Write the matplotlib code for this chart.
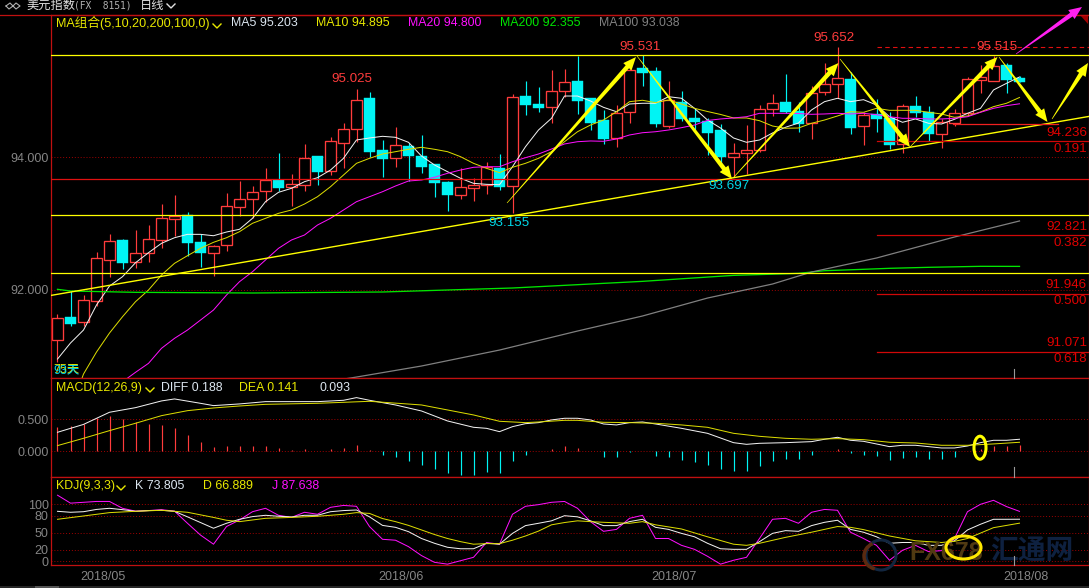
# coding: utf-8
# 美元指数 日线 - candles, MA lines, MACD, KDJ with hand drawn arrows on top
import numpy as np
import matplotlib
matplotlib.use('Agg')
import matplotlib.pyplot as plt
from matplotlib.patches import Polygon, Ellipse, Circle, Arc, Rectangle

plt.rcParams['font.family'] = ['Liberation Sans', 'Noto Sans CJK SC', 'DejaVu Sans']

W, H = 1089, 588

###------------------------------------------ data
# open, high, low, close per day
opens = [91.252,91.589,91.523,91.839,92.455,92.752,92.425,92.561,92.756,93.072,93.132,92.717,92.552,92.681,93.253,93.373,93.484,93.654,93.544,
         93.583,94.015,93.785,94.215,94.426,94.887,94.105,93.99,94.165,94.015,93.895,93.624,93.433,93.538,93.583,93.835,93.568,94.917,94.797,
         94.757,94.997,95.143,94.887,94.556,94.29,94.681,95.339,95.293,94.471,94.832,94.587,94.546,94.406,94.005,94.065,94.11,94.726,94.827,
         94.692,94.516,94.982,95.102,95.173,94.471,94.651,94.582,94.2,94.767,94.677,94.35,94.516,94.666,95.163,95.148,95.384,95.188]
highs = [91.639,91.989,91.924,92.567,92.842,92.767,92.902,92.977,93.293,93.428,93.173,92.837,92.676,93.459,93.639,93.559,93.835,94.06,93.744,
         94.196,94.015,94.296,94.507,95.025,94.978,94.256,94.447,94.206,94.331,93.895,93.635,93.835,93.684,93.925,94.045,94.948,95.143,95.053,
         95.308,95.324,95.52,94.887,94.707,94.778,95.46,95.531,95.358,95.143,94.993,94.732,94.582,94.496,94.21,94.481,94.782,94.948,95.248,
         94.832,95.068,95.409,95.652,95.283,94.681,94.868,94.681,94.797,94.917,94.767,94.576,94.722,95.199,95.384,95.515,95.409,95.223]
lows = [90.921,91.463,91.463,91.764,92.2,92.316,92.335,92.425,92.636,92.812,92.516,92.35,92.215,92.591,93.117,93.078,93.328,93.493,93.268,
        93.493,93.583,93.729,93.835,94.23,94.005,93.699,93.85,93.644,93.755,93.398,93.188,93.368,93.338,93.444,93.504,93.155,94.632,94.677,
        94.516,94.902,94.647,94.406,94.196,94.155,94.516,95.068,94.456,94.436,94.546,94.38,94.03,93.88,93.697,93.74,94.075,94.621,94.657,
        94.376,94.271,94.932,94.883,94.346,94.18,94.376,94.116,94.056,94.606,94.236,94.135,94.466,94.632,94.967,95.143,94.967,95.128]
closes = [91.574,91.488,91.845,92.476,92.732,92.406,92.552,92.762,93.078,93.108,92.711,92.561,92.666,93.259,93.364,93.478,93.659,93.538,93.589,
          93.98,93.779,94.236,94.417,94.853,94.075,93.97,94.176,94.015,93.85,93.609,93.428,93.544,93.574,93.845,93.549,94.898,94.782,94.737,
          94.988,95.123,94.847,94.516,94.271,94.657,95.304,95.263,94.496,94.853,94.572,94.526,94.361,94.0,94.056,94.101,94.717,94.808,94.677,
          94.496,94.958,95.093,95.188,94.436,94.627,94.572,94.18,94.763,94.662,94.346,94.526,94.657,95.169,95.199,95.369,95.158,95.128]

ma5 = [90.962,91.203,91.398,91.774,92.06,92.20,92.41,92.561,92.702,92.786,92.837,92.837,92.816,92.872,92.913,93.078,93.328,93.469,93.529,
       93.629,93.689,93.804,93.98,94.256,94.286,94.311,94.296,94.221,94.015,93.88,93.779,93.68,93.604,93.589,93.583,93.854,94.155,94.406,
       94.582,94.917,94.917,94.842,94.747,94.681,94.797,94.808,94.808,94.907,94.883,94.732,94.556,94.436,94.286,94.221,94.256,94.361,94.447,
       94.511,94.707,94.832,94.883,94.832,94.862,94.782,94.606,94.522,94.572,94.507,94.496,94.567,94.657,94.732,95.008,95.108,95.203]
ma10_start = 1
ma10 = [90.2,90.736,91.067,91.353,91.598,91.824,92.0,92.225,92.401,92.516,92.627,92.717,92.786,92.877,93.003,93.078,93.153,93.203,
        93.293,93.403,93.553,93.729,93.905,93.98,94.045,94.08,94.116,94.146,94.116,94.08,94.005,93.905,93.83,93.764,93.845,93.905,93.98,
        94.08,94.23,94.38,94.481,94.556,94.681,94.832,94.853,94.817,94.857,94.797,94.732,94.684,94.64,94.587,94.587,94.546,94.466,94.432,
        94.436,94.507,94.556,94.617,94.681,94.672,94.732,94.702,94.702,94.702,94.672,94.647,94.597,94.617,94.677,94.757,94.808,94.895]
ma20_start = 5
ma20 = [90.62,90.762,90.897,91.123,91.273,91.398,91.548,91.699,91.924,92.125,92.275,92.451,92.627,92.752,
        92.827,92.977,93.078,93.203,93.328,93.403,93.478,93.564,93.639,93.654,93.695,93.755,93.804,93.845,93.854,93.854,93.929,93.99,94.045,
        94.12,94.196,94.23,94.241,94.236,94.271,94.331,94.365,94.38,94.406,94.441,94.481,94.549,94.572,94.587,94.606,94.657,94.657,94.657,
        94.654,94.642,94.647,94.657,94.647,94.657,94.636,94.606,94.582,94.582,94.572,94.572,94.582,94.606,94.672,94.732,94.772,94.8]
ma200_x = [0,1,6,15,25,35,45,52,57,59,62,64,67,71,74]
ma200 = [92.01,91.985,91.965,91.955,91.97,92.03,92.13,92.22,92.25,92.29,92.311,92.326,92.341,92.356,92.355]
ma100_x = [22,23,28,34,40,45,50,55,58,63,69,74]
ma100 = [90.66,90.691,90.857,91.097,91.383,91.609,91.879,92.09,92.27,92.481,92.797,93.038]

macd_hist = [.385,.396,.42,.515,.556,.505,.463,.427,.41,.364,.255,.146,.068,.088,.088,.088,.088,.052,.02,.036,.005,.036,.052,.099,.02,
             -.057,-.088,-.151,-.213,-.276,-.338,-.369,-.369,-.322,-.338,-.151,-.057,0,.036,.083,.052,0,-.088,-.088,-.005,.005,-.073,-.088,
             -.135,-.167,-.213,-.276,-.307,-.307,-.229,-.151,-.12,-.12,-.057,0,.036,-.026,-.057,-.073,-.135,-.104,-.088,-.12,-.12,-.088,0,
             .036,.083,.083,.093]
diff_x = [0,2,4,6,8,9,11,12,14,16,18,20,22,23,24,26,28,30,32,33,34,35,36,37,38,39,40,41,42,43,44,45,46,48,50,52,53,54,56,58,59,60,61,62,64,65,66,68,69,70,71,72,73,74]
diff = [.297,.42,.61,.682,.787,.818,.75,.714,.74,.776,.776,.776,.797,.839,.797,.724,.63,.474,.375,.359,.307,.385,.432,.448,.49,.516,.516,.49,.427,.412,.448,.458,.427,
        .359,.281,.135,.109,.125,.135,.151,.188,.219,.172,.156,.073,.094,.094,.052,.052,.083,.135,.172,.172,.188]
dea_x = [0,2,4,6,8,10,12,14,16,20,24,28,32,34,36,37,39,40,42,44,46,48,50,52,54,56,58,60,62,64,66,68,70,72,74]
dea = [.089,.203,.323,.438,.557,.635,.677,.708,.734,.75,.781,.724,.568,.469,.448,.458,.484,.484,.453,.448,.438,.412,.375,.281,.234,.203,.188,.198,.182,.141,.13,.094,.094,.115,.141]

kdj_k = [87.7,86,87,91,93,90.6,87.7,89,89.5,87.7,78,68,58,66.7,73.7,78.4,80.7,79,77.8,80.7,80.7,87,89,90,78,63,59.6,52,40,31.6,24.6,22,22,31.6,30,49,62.6,66.7,
         71,80,78,71,62.6,62.6,69.6,73.7,59.6,56,49,43,31.6,22,21,21,34.5,49,53.8,52.6,62.6,68.4,72,56,51,43,31.6,33,33,28,28,36,55,65,73.7,73.7,73.805]
kdj_d_x = [0,2,4,6,8,9,10,12,13,14,16,18,20,22,23,24,25,26,27,28,29,30,31,32,33,34,35,36,37,38,39,40,41,42,44,45,46,48,50,52,53,54,56,58,60,61,62,64,66,68,69,70,72,74]
kdj_d = [73.7,79.5,85.4,87.7,89.5,87.7,86,77,72,69.6,75.4,77,79,82.5,85.4,84,75,69.6,63,55,47,40,34.5,30,31,31,37,44.4,53,64,68,71,69.6,68.4,66.7,69.6,64,56.7,43,30,28,31.6,42,51,61,59.6,55.6,44.4,36,33,35,40,59,66.889]
kdj_j = [116,102,103.5,105,105,93,88,89,90.6,88,66.7,46,30,61,72.5,87,93,80.7,77,86,82.5,94.7,98,96.5,61,38.6,37,25.7,10,-1.8,-5,1,7,33,30,82.5,96.5,99.4,
         103.5,105,93,69.6,52.6,56,75.4,80.7,40,40,28,21,8.8,-5,1.8,7,40,73.7,75.4,66.7,86,91,89.5,51,40,28,1.8,19.3,28,17,18.7,40,87,100,107,96,87.638]

yellow_levels = [95.534, 93.132, 92.25]
red_level = 93.664
red_short = 94.49
trend_price = [91.92, 94.609]
fib_top = 95.652
fib_levels = [94.236, 92.821, 91.946, 91.071]
fib_ratios = ['0.191', '0.382', '0.500', '0.618']
date_x = [3.5, 26.4, 47.4, 74.5]
date_labels = ['2018/05', '2018/06', '2018/07', '2018/08']

###------------------------------------------ colours
RED = '#ff3c3c'
CYAN = '#00f4f4'
BORDER = '#c01010'
GRID = '#a00000'
GREY = '#858585'
YEL = '#e8e800'
BRIGHT_YEL = '#ffff00'
MAG = '#ff10ff'
LABEL_WHITE = '#dce6f0'

FIRST_X = 57.5
STEP = 13.0
LEFT, RIGHT = 51.5, 1088.5


def make_ax(top, bottom):
    ax = fig.add_axes([LEFT / W, 1 - bottom / H, (RIGHT - LEFT) / W, (bottom - top) / H])
    ax.set_facecolor('black')
    ax.set_xlim((LEFT - FIRST_X) / STEP, (RIGHT - FIRST_X) / STEP)
    for s in ax.spines.values():
        s.set_color(BORDER)
        s.set_linewidth(0.9)
    ax.tick_params(axis='both', length=0, labelcolor=GREY, labelsize=9, pad=2)
    ax.set_xticks([])
    ax.grid(axis='y', color=GRID, ls=(0, (1, 2)), lw=0.7)
    ax.set_axisbelow(True)
    return ax


def arrow(ax, x0, y0, x1, y1, color, w=4.5, hw=11, hl=13):
    # thin tail growing to the head, like the hand drawn ones
    d = np.array([x1 - x0, y1 - y0], dtype=float)
    d = d / np.hypot(d[0], d[1])
    n = np.array([-d[1], d[0]])
    tail = np.array([x0, y0])
    tip = np.array([x1, y1])
    base = tip - d * hl
    pts = [tail + n * 0.3, base + n * w / 2, base + n * hw / 2, tip,
           base - n * hw / 2, base - n * w / 2, tail - n * 0.3]
    ax.add_patch(Polygon(pts, closed=True, fc=color, ec='none', zorder=6))


def caret(ax, x, y):
    ax.plot([x, x + 4, x + 8], [y, y + 4, y], color=YEL, lw=1.0)


fig = plt.figure(figsize=(W / 100, H / 100), dpi=100, facecolor='black')

###------------------------------------------ price panel
ax1 = make_ax(15, 378)
ax1.set_ylim(94 - (378 - 157) / 66.5, 94 + (157 - 15) / 66.5)
ax1.set_yticks([92, 94])
ax1.set_yticklabels(['92.000', '94.000'])

idx = np.arange(len(closes))
o = np.array(opens)
c = np.array(closes)
up = c >= o
ax1.vlines(idx[up], np.array(lows)[up], np.array(highs)[up], color=RED, lw=0.85, zorder=2)
ax1.vlines(idx[~up], np.array(lows)[~up], np.array(highs)[~up], color=CYAN, lw=0.85, zorder=2)
ax1.bar(idx[up], (c - o)[up], bottom=o[up], width=0.8, facecolor='black', edgecolor=RED, linewidth=0.95, zorder=2.1)
ax1.bar(idx[~up], (o - c)[~up], bottom=c[~up], width=0.84, facecolor=CYAN, edgecolor=CYAN, linewidth=0.3, zorder=2.1)

ax1.plot(idx, ma5, color='#f2f2f2', lw=0.72, zorder=3)
ax1.plot(np.arange(len(ma10)) + ma10_start, ma10, color='#dcdc00', lw=0.72, zorder=3)
ax1.plot(np.arange(len(ma20)) + ma20_start, ma20, color=MAG, lw=0.72, zorder=3)
ax1.plot(ma200_x, ma200, color='#00e600', lw=0.95, zorder=3)
ax1.plot(ma100_x, ma100, color='#808080', lw=0.9, zorder=3)

xmin, xmax = ax1.get_xlim()
for lv in yellow_levels:
    ax1.axhline(lv, color=BRIGHT_YEL, lw=0.9, zorder=4)
ax1.axhline(red_level, color='#e01010', lw=0.9, zorder=4)
ax1.plot([xmin, xmax], trend_price, color=BRIGHT_YEL, lw=1.0, zorder=4)
ax1.plot([68.9, 76.96], [red_short, red_short], color='#f02020', lw=0.9, zorder=4)
ax1.plot([63.04, xmax], [fib_top, fib_top], color='#e01010', lw=0.8, ls=(0, (4, 3)), zorder=4)
for lv in fib_levels:
    ax1.plot([63.04, xmax], [lv, lv], color='#d00808', lw=0.9, zorder=4)

###------------------------------------------ MACD panel
ax2 = make_ax(378, 477)
ax2.set_ylim(-(477 - 451.3) / 64.0, (451.3 - 378) / 64.0)
ax2.set_yticks([0, 0.5])
ax2.set_yticklabels(['0.000', '0.500'])
hist = np.array(macd_hist)
hx = np.arange(len(hist))
ax2.vlines(hx[hist > 0], 0, hist[hist > 0], color=RED, lw=0.85, zorder=2)
ax2.vlines(hx[hist < 0], hist[hist < 0], 0, color=CYAN, lw=0.85, zorder=2)
ax2.plot(diff_x, diff, color='#f2f2f2', lw=0.72, zorder=3)
ax2.plot(dea_x, dea, color='#dcdc00', lw=0.72, zorder=3)

###------------------------------------------ KDJ panel
ax3 = make_ax(477, 565)
ax3.set_ylim((561.3 - 565) / 0.57, (561.3 - 477) / 0.57)
ax3.set_yticks([0, 20, 50, 80, 100])
ax3.set_xticks(date_x)
ax3.set_xticklabels(date_labels)
ax3.tick_params(axis='x', pad=4)
ax3.plot(np.arange(len(kdj_j)), kdj_j, color=MAG, lw=0.72, zorder=3)
ax3.plot(np.arange(len(kdj_k)), kdj_k, color='#f2f2f2', lw=0.72, zorder=3)
ax3.plot(kdj_d_x, kdj_d, color='#dcdc00', lw=0.72, zorder=3)

###------------------------------------------ overlay in pixels: header text, drawings
ov = fig.add_axes([0, 0, 1, 1], facecolor='none')
ov.set_xlim(0, W)
ov.set_ylim(H, 0)
ov.axis('off')


def txt(x, y, s, color, ha='left', size=8.9, **kw):
    ov.text(x, y, s, color=color, ha=ha, va='center', fontsize=size, zorder=7, **kw)


# top red line and corner mark
ov.plot([0, W], [14.5, 14.5], color=BORDER, lw=0.9)
ov.add_patch(Polygon([[1080, 15], [1088, 15], [1088, 24]], closed=True, fc='#a00000', ec='none'))

# title row
ov.plot([6, 10, 13, 16, 20, 16, 13, 9, 6], [6, 3, 6, 3, 6, 9, 6, 9, 6], color='#b0b0b0', lw=0.8)
txt(26, 6, '美元指数', '#e0e0e0', size=8.8)
txt(74, 6, '(FX  8151)', '#b0b0b0', size=6.9, family=['DejaVu Sans Mono'])
txt(140, 6, '日线', '#e0e0e0', size=8.8)
ov.plot([167, 171, 175], [4, 8, 4], color='#e0e0e0', lw=1.0)

# MA row
txt(56, 22.5, 'MA组合(5,10,20,200,100,0)', YEL, size=9.1)
caret(ov, 213, 24)
txt(231, 22.5, 'MA5 95.203', LABEL_WHITE)
txt(316, 22.5, 'MA10 94.895', YEL)
txt(408, 22.5, 'MA20 94.800', MAG)
txt(500, 22.5, 'MA200 92.355', '#00e600')
txt(599, 22.5, 'MA100 93.038', '#808080')

# MACD and KDJ rows
txt(56, 388, 'MACD(12,26,9)', YEL)
caret(ov, 146, 388)
txt(161, 388, 'DIFF 0.188', LABEL_WHITE)
txt(239, 388, 'DEA 0.141', YEL)
txt(320, 388, '0.093', LABEL_WHITE)
txt(56, 486, 'KDJ(9,3,3)', YEL)
caret(ov, 117, 486)
txt(135, 486, 'K 73.805', LABEL_WHITE)
txt(203, 486, 'D 66.889', YEL)
txt(272, 486, 'J 87.638', MAG)

# price labels
for x, y, s in [(352, 79, '95.025'), (640, 47, '95.531'), (834, 38, '95.652'), (997, 47, '95.515')]:
    txt(x, y, s, RED, ha='center', size=9.6)
for x, y, s in [(509, 223, '93.155'), (729, 186, '93.697')]:
    txt(x, y, s, '#00d8e8', ha='center', size=9.6)
for y, lv, rt in zip([133, 227, 285, 343], fib_levels, fib_ratios):
    txt(1087, y, '%.3f' % lv, '#e00000', ha='right', size=9.6)
    txt(1087, y + 16.5, rt, '#e00000', ha='right', size=9.6)
txt(53, 369, '75天', YEL)
txt(53, 370, '93天', '#00d8e8')

# crosshair stubs
ov.plot([1013.5, 1013.5], [369, 378], color='#9a9a9a', lw=0.8)
ov.plot([1013.5, 1013.5], [467, 477], color='#9a9a9a', lw=0.8)
ov.plot([1013.5, 1013.5], [556, 565], color='#9a9a9a', lw=0.8)

# watermark
ov.add_patch(Circle((881, 555), 15, fc='none', ec='#12263f', lw=2.2, zorder=1))
ov.add_patch(Arc((877, 556), 26, 26, theta1=100, theta2=250, color='#5a2a10', lw=2.5, zorder=1))
ov.text(909, 553, 'FX678', color='#503a12', fontsize=18, fontweight='bold', va='center', zorder=1)
ov.text(990, 553, '汇通网', color='#0e2140', fontsize=20, fontweight='bold', va='center', zorder=1)

# hand drawn arrows
arrow(ov, 507, 203, 636, 57, BRIGHT_YEL)
arrow(ov, 637, 56, 732, 179, BRIGHT_YEL)
arrow(ov, 733, 178, 838.5, 63, BRIGHT_YEL)
arrow(ov, 840, 59, 910, 147, BRIGHT_YEL)
arrow(ov, 910, 147, 997.5, 57, BRIGHT_YEL)
arrow(ov, 999, 57, 1047.5, 122, BRIGHT_YEL)
arrow(ov, 1052, 119, 1088, 63, BRIGHT_YEL)
arrow(ov, 1016, 54, 1082, 7, '#ff20f0')

# ellipses
ov.add_patch(Ellipse((980, 447.7), 12, 23, fc='none', ec=BRIGHT_YEL, lw=2.2, zorder=6))
ov.add_patch(Ellipse((963.5, 547.5), 35, 23, fc='none', ec='#ffe800', lw=2.2, zorder=6))

# bottom strip
ov.add_patch(Rectangle((0, 586), W, 2, fc='#262626', ec='none'))
ov.add_patch(Rectangle((35, 586), 24, 2, fc='#555555', ec='none'))
ov.set_xlim(0, W)
ov.set_ylim(H, 0)

fig.savefig('out.png', dpi=100, facecolor='black')
